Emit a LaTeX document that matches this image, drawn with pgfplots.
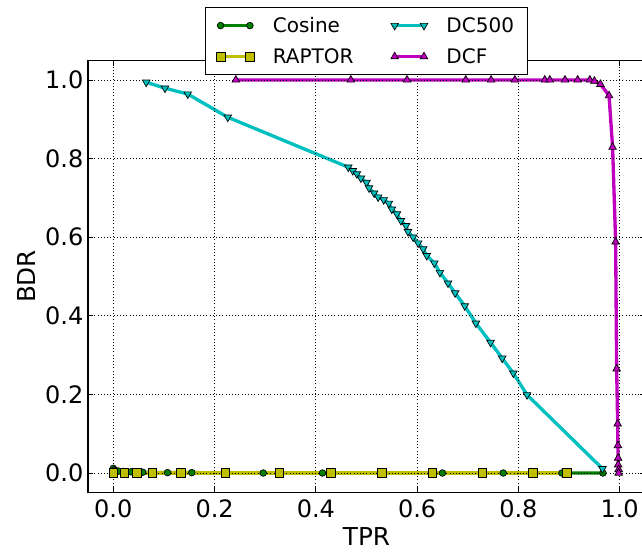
\documentclass[border=0pt]{standalone}
\usepackage{fontspec}
\setmainfont{DejaVu Sans}
\usepackage{pgfplots}
\pgfplotsset{compat=1.18}
\definecolor{mgreen}{rgb}{0,0.5,0}
\definecolor{myellow}{rgb}{0.75,0.75,0}
\definecolor{mcyan}{rgb}{0,0.75,0.75}
\definecolor{mmagenta}{rgb}{0.75,0,0.75}

\begin{document}
\begin{tikzpicture}
\begin{axis}[
    name=ax,
    scale only axis,
    width=417.75pt, height=324.3pt,
    xmin=-0.05, xmax=1.05, ymin=-0.05, ymax=1.05,
    xtick={0,0.2,0.4,0.6,0.8,1.0},
    ytick={0,0.2,0.4,0.6,0.8,1.0},
    xticklabel style={/pgf/number format/fixed, /pgf/number format/fixed zerofill, /pgf/number format/precision=1, yshift=-2pt},
    yticklabel style={/pgf/number format/fixed, /pgf/number format/fixed zerofill, /pgf/number format/precision=1},
    /pgf/number format/assume math mode=true,
    tick label style={font=\fontsize{18}{21}\selectfont},
    label style={font=\fontsize{18.5}{22}\selectfont},
    xlabel={TPR}, ylabel={BDR},
    axis on top,
    grid=major,
    major grid style={black, dotted, line width=0.6pt},
    tick style={black, line width=0.6pt},
    major tick length=4pt,
    axis line style={line width=0.8pt},
    legend columns=2,
    transpose legend,
    legend cell align=left,
    legend style={at={(0.5,1.1226)}, anchor=north, draw=black, line width=0.6pt,
        font=\fontsize{15}{18}\selectfont,
        /tikz/every odd column/.append style={column sep=12pt},
        /tikz/every even column/.append style={column sep=26pt},
        row sep=6.5pt, inner xsep=8pt, inner ysep=5pt},
    legend image code/.code={\draw plot coordinates {(0pt,0pt) (22pt,0pt)};},
]
\addplot[mgreen, line width=2.5pt, mark=*, mark size=2.5pt,
    mark options={draw=black, fill=mgreen, line width=0.5pt}] coordinates {
    (0,0.012) (0.002,0.008) (0.005,0.006) (0.01,0.005) (0.02,0.004) (0.035,0.003)
    (0.058,0.002) (0.107,0.001) (0.155,0.001) (0.296,0) (0.413,0) (0.53,0)
    (0.650,0) (0.770,0) (0.886,0) (0.967,0)
};
\addlegendentry{Cosine}
\addplot[myellow, line width=2.5pt, mark=square*, mark size=3.2pt,
    mark options={draw=black, fill=myellow, line width=0.5pt}] coordinates {
    (0,0) (0.022,0) (0.046,0) (0.077,0) (0.133,0) (0.221,0) (0.328,0)
    (0.43,0) (0.53,0) (0.63,0) (0.729,0) (0.828,0) (0.896,0)
};
\addlegendentry{RAPTOR}
\addplot[mcyan, line width=2.5pt, mark=triangle*, mark size=3.3pt,
    mark options={draw=black, fill=mcyan, line width=0.5pt, rotate=180}] coordinates {
    (0.065,0.994) (0.102,0.979) (0.147,0.964) (0.226,0.905)
    (0.464,0.778) (0.473,0.769) (0.481,0.761) (0.489,0.750) (0.500,0.739)
    (0.505,0.725) (0.515,0.712) (0.523,0.702) (0.534,0.695) (0.544,0.686)
    (0.550,0.671) (0.560,0.659) (0.568,0.642) (0.578,0.629) (0.582,0.614)
    (0.592,0.600) (0.602,0.585) (0.612,0.570) (0.619,0.553) (0.634,0.534)
    (0.645,0.510) (0.661,0.483) (0.675,0.458) (0.694,0.425) (0.716,0.381)
    (0.745,0.332) (0.768,0.292) (0.790,0.254) (0.817,0.199) (0.966,0.011)
};
\addlegendentry{DC500}
\addplot[mmagenta, line width=2.5pt, mark=triangle*, mark size=3.3pt,
    mark options={draw=black, fill=mmagenta, line width=0.5pt}] coordinates {
    (0.242,1.0) (0.469,1.0) (0.580,1.0) (0.696,1.0) (0.746,1.0) (0.793,1.0)
    (0.852,1.0) (0.862,1.0) (0.892,1.0) (0.917,1.0) (0.941,1.0) (0.950,0.997)
    (0.962,0.989) (0.979,0.960) (0.986,0.829) (0.992,0.588) (0.994,0.265)
    (0.996,0.125) (0.9965,0.070) (0.997,0.038) (0.997,0.021) (0.998,0.009) (0.998,0.0)
};
\addlegendentry{DCF}
\end{axis}
\pgfresetboundingbox
\useasboundingbox ([xshift=-66pt,yshift=-46pt]ax.south west) rectangle ([xshift=415.5pt,yshift=45.2pt]ax.north west);
\end{tikzpicture}
\end{document}
